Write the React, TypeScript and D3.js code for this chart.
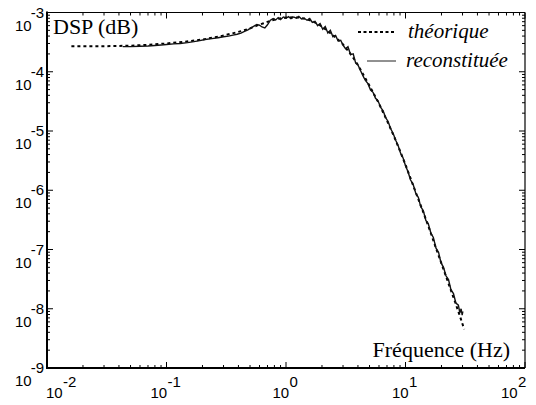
import * as d3 from 'd3';

// theoretical PSD (dotted)
const thFreq = [0.016, 0.03, 0.05, 0.07, 0.1, 0.14, 0.2, 0.28, 0.35, 0.43, 0.5, 0.57, 0.65, 0.75, 0.85, 1.0, 1.15, 1.3, 1.5, 1.7, 1.9, 2.2, 2.6, 3.0, 3.5, 4.0, 4.5, 5.0, 6.0, 7.0, 8.0, 9.0, 10, 12, 14, 16, 18, 20, 23, 26, 29, 31];
const thPsd = [2.7e-4, 2.7e-4, 2.75e-4, 2.85e-4, 3.0e-4, 3.2e-4, 3.5e-4, 3.95e-4, 4.4e-4, 4.9e-4, 5.4e-4, 6.0e-4, 6.6e-4, 7.3e-4, 7.8e-4, 8.2e-4, 8.3e-4, 8.2e-4, 7.7e-4, 7.0e-4, 6.2e-4, 5.0e-4, 3.8e-4, 2.9e-4, 1.95e-4, 1.3e-4, 8.5e-5, 5.8e-5, 2.9e-5, 1.5e-5, 8.2e-6, 4.6e-6, 2.7e-6, 1.0e-6, 4.4e-7, 2.1e-7, 1.05e-7, 5.8e-8, 2.6e-8, 1.3e-8, 6.8e-9, 4.5e-9];

// reconstructed PSD (solid)
const recFreq = [0.043, 0.05, 0.06, 0.07, 0.08, 0.09, 0.1, 0.115, 0.13, 0.15, 0.17, 0.19, 0.21, 0.24, 0.27, 0.3, 0.33, 0.36, 0.39, 0.42, 0.45, 0.48, 0.51, 0.54, 0.57, 0.6, 0.63, 0.665, 0.7, 0.74, 0.78, 0.82, 0.86, 0.9, 0.95, 1.0, 1.05, 1.1, 1.16, 1.22, 1.28, 1.35, 1.42, 1.5, 1.58, 1.66, 1.75, 1.84, 1.93, 2.03, 2.13, 2.24, 2.35, 2.47, 2.6, 2.73, 2.87, 3.0, 3.15, 3.3, 3.47, 3.65, 3.83, 4.0, 4.2, 4.4, 4.6, 4.85, 5.1, 5.35, 5.6, 5.9, 6.2, 6.5, 6.8, 7.15, 7.5, 7.9, 8.3, 8.7, 9.1, 9.55, 10.0, 10.5, 11.0, 11.6, 12.2, 12.8, 13.4, 14.1, 14.8, 15.5, 16.3, 17.1, 18.0, 18.9, 19.8, 20.8, 21.8, 22.9, 24.0, 25.2, 26.4, 27.7, 28.5, 29.2, 29.8, 30.2];
const recPsd = [2.65e-4, 2.66e-4, 2.7e-4, 2.72e-4, 2.78e-4, 2.82e-4, 2.88e-4, 2.95e-4, 3.0e-4, 3.1e-4, 3.22e-4, 3.35e-4, 3.5e-4, 3.62e-4, 3.75e-4, 3.9e-4, 4.0e-4, 4.15e-4, 4.3e-4, 4.5e-4, 4.8e-4, 5.1e-4, 5.5e-4, 5.9e-4, 6.3e-4, 6.1e-4, 5.7e-4, 5.5e-4, 6.2e-4, 7.4e-4, 7.9e-4, 7.5e-4, 8.2e-4, 7.6e-4, 8.4e-4, 8.0e-4, 8.5e-4, 7.9e-4, 8.4e-4, 8.0e-4, 8.6e-4, 7.8e-4, 8.0e-4, 7.4e-4, 7.9e-4, 6.8e-4, 7.1e-4, 6.0e-4, 6.5e-4, 5.2e-4, 5.8e-4, 4.5e-4, 5.0e-4, 3.9e-4, 4.1e-4, 3.3e-4, 3.4e-4, 2.8e-4, 2.45e-4, 2.65e-4, 1.95e-4, 2.0e-4, 1.4e-4, 1.3e-4, 1.05e-4, 8.6e-5, 7.2e-5, 6.3e-5, 4.9e-5, 4.5e-5, 3.6e-5, 3.2e-5, 2.5e-5, 2.2e-5, 1.7e-5, 1.45e-5, 1.1e-5, 9.0e-6, 6.9e-6, 5.6e-6, 4.2e-6, 3.5e-6, 2.6e-6, 2.05e-6, 1.5e-6, 1.25e-6, 8.8e-7, 7.6e-7, 5.3e-7, 4.5e-7, 3.1e-7, 2.75e-7, 1.9e-7, 1.6e-7, 1.05e-7, 9.0e-8, 6.0e-8, 5.0e-8, 3.6e-8, 3.1e-8, 2.1e-8, 1.8e-8, 1.25e-8, 1.15e-8, 8.5e-9, 1.0e-8, 7.8e-9, 9.0e-9];

const xExponents = [-2, -1, 0, 1, 2];
const yExponents = [-9, -8, -7, -6, -5, -4, -3];
const legendLabels = ['théorique', 'reconstituée'];

const W = 536;
const H = 405;
const left = 47, right = 525, top = 12.5, bottom = 368;

const sans = "'Liberation Sans', Arial, sans-serif";
const serif = "'Liberation Serif', 'Times New Roman', serif";

export default function App() {
  const x = d3.scaleLog().domain([0.01, 100]).range([left, right]);
  const y = d3.scaleLog().domain([1e-9, 1e-3]).range([bottom, top]);

  const isMajor = (v: number) => Math.abs(Math.log10(v) - Math.round(Math.log10(v))) < 1e-6;

  const line = d3.line<[number, number]>()
    .x(d => x(d[0]))
    .y(d => y(d[1]));

  const thData = thFreq.map((f, i) => [f, thPsd[i]] as [number, number]);
  const recData = recFreq.map((f, i) => [f, recPsd[i]] as [number, number]);

  return (
    <svg width={W} height={H} style={{ position: 'absolute', left: 0, top: 0, background: '#fff' }}>
      {/* curves */}
      <path d={line(thData) || ''} fill="none" stroke="#000" strokeWidth={2} strokeDasharray="3,3" />
      <path d={line(recData) || ''} fill="none" stroke="#111" strokeWidth={1.4} />

      {/* ticks, inward on all sides */}
      {x.ticks().map((t, i) => {
        const len = isMajor(t) ? 6 : 3;
        return (
          <g key={'xt' + i} stroke="#000" strokeWidth={1}>
            <line x1={x(t)} x2={x(t)} y1={bottom} y2={bottom - len} />
            <line x1={x(t)} x2={x(t)} y1={top} y2={top + len} />
          </g>
        );
      })}
      {y.ticks().map((t, i) => {
        const len = isMajor(t) ? 6 : 3;
        return (
          <g key={'yt' + i} stroke="#000" strokeWidth={1}>
            <line x1={left} x2={left + len} y1={y(t)} y2={y(t)} />
            <line x1={right} x2={right - len} y1={y(t)} y2={y(t)} />
          </g>
        );
      })}

      {/* frame */}
      <line x1={left} x2={right} y1={top} y2={top} stroke="#000" strokeWidth={1.2} />
      <line x1={right} x2={right} y1={top} y2={bottom} stroke="#000" strokeWidth={1.2} />
      <line x1={left} x2={left} y1={top - 1} y2={bottom + 1} stroke="#000" strokeWidth={2} />
      <line x1={left - 1} x2={right} y1={bottom} y2={bottom} stroke="#000" strokeWidth={2} />

      {/* y tick labels */}
      {yExponents.map(e => {
        const py = y(Math.pow(10, e));
        return (
          <g key={'yl' + e} style={{ fontFamily: sans, fontSize: 15 }} fill="#000">
            <text x={15} y={py + 18}>10</text>
            <text x={44} y={py + 5} textAnchor="end">{e}</text>
          </g>
        );
      })}

      {/* x tick labels */}
      {xExponents.map(e => {
        const px = x(Math.pow(10, e));
        const w = e < 0 ? 32 : 27;
        const start = Math.min(Math.max(px - w / 2, 46), 528 - w);
        return (
          <g key={'xl' + e} style={{ fontFamily: sans, fontSize: 15 }} fill="#000">
            <text x={start} y={398}>10</text>
            <text x={start + 17} y={387}>{e}</text>
          </g>
        );
      })}

      {/* axis titles */}
      <text x={53} y={34} style={{ fontFamily: serif, fontSize: 22 }}>DSP (dB)</text>
      <text x={510} y={357} style={{ fontFamily: serif, fontSize: 22 }} textAnchor="end">Fréquence (Hz)</text>

      {/* legend */}
      <line x1={358} x2={396} y1={32} y2={32} stroke="#000" strokeWidth={2} strokeDasharray="3,2.5" />
      <text x={408} y={38} style={{ fontFamily: serif, fontSize: 21, fontStyle: 'italic' }}>{legendLabels[0]}</text>
      <line x1={367} x2={396} y1={61} y2={61} stroke="#222" strokeWidth={1} />
      <text x={406} y={67} style={{ fontFamily: serif, fontSize: 21, fontStyle: 'italic' }}>{legendLabels[1]}</text>
    </svg>
  );
}
